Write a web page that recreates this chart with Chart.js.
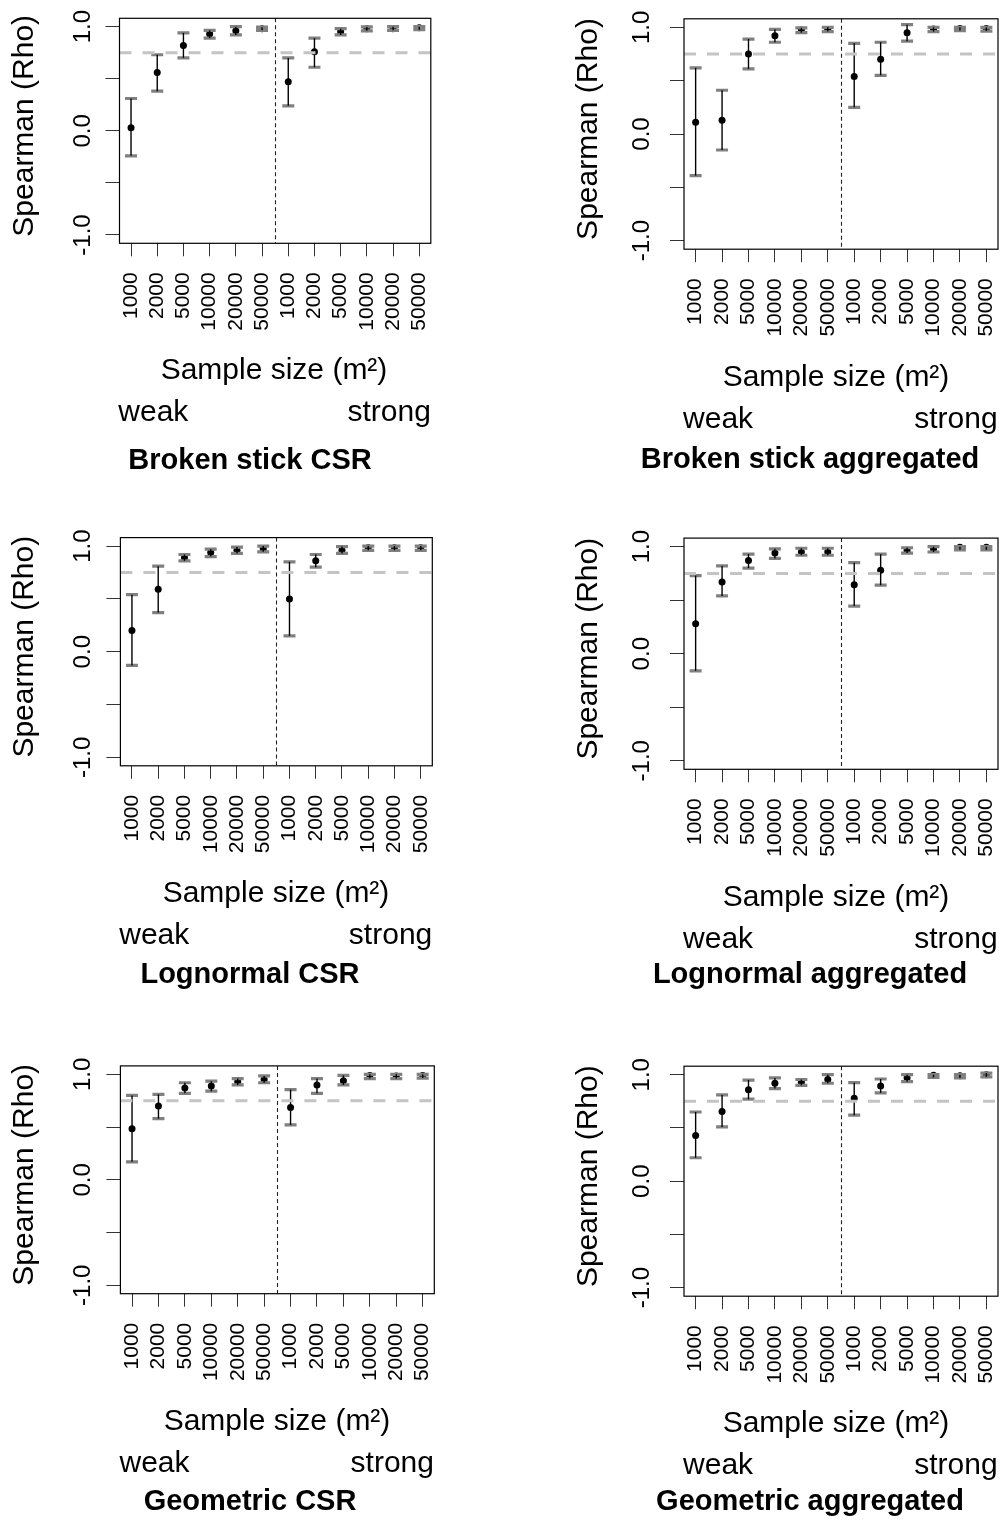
<!DOCTYPE html>
<html><head><meta charset="utf-8">
<script src="https://cdn.jsdelivr.net/npm/chart.js@4.4.1/dist/chart.umd.min.js"></script>
<style>
html,body{margin:0;padding:0;background:#fff;width:1002px;height:1526px;overflow:hidden}
.p{position:absolute}
</style></head><body>
<script>
// ---------- data ----------
const positions = [1,2,3,4,5,6,7,8,9,10,11,12];
const sampleSizes = ['1000','2000','5000','10000','20000','50000','1000','2000','5000','10000','20000','50000'];
const yTicks = [-1,-0.5,0,0.5,1];
const yTickLabels = [[-1,'-1.0'],[0,'0.0'],[1,'1.0']];
const referenceRho = 0.75;
const groupDivider = 6.5;
const groupLabels = ['weak','strong'];
const groupLabelAt = [1.85, 10.85];
const xTitle = 'Sample size (m²)';
const yTitle = 'Spearman (Rho)';
const panelTitles = ['Broken stick CSR','Broken stick aggregated','Lognormal CSR','Lognormal aggregated','Geometric CSR','Geometric aggregated'];

const bsCsrMean  = [0.03, 0.56, 0.82, 0.93, 0.96, 0.98, 0.47, 0.76, 0.95, 0.98, 0.98, 0.99];
const bsCsrLower = [-0.24,0.38, 0.70, 0.89, 0.92, 0.965,0.24, 0.61, 0.92, 0.96, 0.965,0.97];
const bsCsrUpper = [0.31, 0.73, 0.94, 0.965,1.00, 0.995,0.70, 0.89, 0.98, 0.997,1.00, 1.00];

const bsAggMean  = [0.11, 0.13, 0.75, 0.92, 0.975,0.98, 0.54, 0.70, 0.95, 0.985,0.99, 0.99];
const bsAggLower = [-0.39,-0.15,0.61, 0.86, 0.95, 0.96, 0.25, 0.55, 0.87, 0.96, 0.97, 0.965];
const bsAggUpper = [0.62, 0.41, 0.89, 0.98, 0.995,1.00, 0.85, 0.86, 1.025,1.00, 1.00, 1.00];

const lnCsrMean  = [0.20, 0.59, 0.89, 0.94, 0.96, 0.975,0.50, 0.86, 0.96, 0.985,0.985,0.985];
const lnCsrLower = [-0.13,0.37, 0.86, 0.90, 0.93, 0.945,0.15, 0.80, 0.93, 0.96, 0.96, 0.96];
const lnCsrUpper = [0.54, 0.81, 0.92, 0.97, 0.99, 1.00, 0.85, 0.92, 0.995,1.00, 1.00, 1.00];

const lnAggMean  = [0.28, 0.67, 0.87, 0.94, 0.95, 0.95, 0.645,0.78, 0.965,0.98, 0.995,0.995];
const lnAggLower = [-0.16,0.54, 0.80, 0.89, 0.92, 0.92, 0.445,0.64, 0.94, 0.95, 0.97, 0.97];
const lnAggUpper = [0.73, 0.82, 0.93, 0.98, 0.985,0.985,0.85, 0.93, 0.99, 1.00, 1.00, 1.00];

const geCsrMean  = [0.485,0.70, 0.87, 0.89, 0.93, 0.95, 0.685,0.90, 0.94, 0.99, 0.985,0.99];
const geCsrLower = [0.17, 0.58, 0.82, 0.84, 0.90, 0.92, 0.52, 0.82, 0.90, 0.96, 0.96, 0.965];
const geCsrUpper = [0.80, 0.81, 0.92, 0.935,0.96, 0.985,0.855,0.96, 0.99, 1.00, 1.00, 1.00];

const geAggMean  = [0.43, 0.655,0.86, 0.92, 0.93, 0.955,0.78, 0.895,0.97, 0.995,0.99, 1.00];
const geAggLower = [0.22, 0.51, 0.77, 0.87, 0.90, 0.92, 0.62, 0.83, 0.935,0.975,0.97, 0.98];
const geAggUpper = [0.65, 0.81, 0.95, 0.97, 0.955,1.00, 0.925,0.96, 1.00, 1.00, 1.00, 1.015];

// ---------- layout (page pixels) ----------
const panelLayout = [
 {ox:0,   oy:0,    w:501, h:509, box:[119.5,18.3,430.8,243.3],   title:[250,469],  sample:[274,379],  tickGap:30},
 {ox:501, oy:0,    w:501, h:509, box:[684,18.8,1000.4,249.2],    title:[810,468],  sample:[836,386],  tickGap:35},
 {ox:0,   oy:509,  w:501, h:509, box:[120.4,537.6,432.3,765.8],  title:[250,983],  sample:[276,902],  tickGap:30},
 {ox:501, oy:509,  w:501, h:509, box:[684,538.1,1000.4,769.3],   title:[810,983],  sample:[836,906],  tickGap:35},
 {ox:0,   oy:1018, w:501, h:508, box:[120.4,1065.9,434.3,1293.7],title:[250,1510], sample:[277,1430], tickGap:30},
 {ox:501, oy:1018, w:501, h:508, box:[684,1066.2,1000.4,1296.2], title:[810,1510], sample:[836,1432], tickGap:35}
];
const panelSeries = [
 [bsCsrMean, bsCsrLower, bsCsrUpper],
 [bsAggMean, bsAggLower, bsAggUpper],
 [lnCsrMean, lnCsrLower, lnCsrUpper],
 [lnAggMean, lnAggLower, lnAggUpper],
 [geCsrMean, geCsrLower, geCsrUpper],
 [geAggMean, geAggLower, geAggUpper]
];

const FONT = '"Liberation Sans", Arial, Helvetica, sans-serif';
const X_AXIS_H = 100;

function makePlugin(idx) {
  const L = panelLayout[idx];
  const [mean, lower, upper] = panelSeries[idx];
  return {
    id: 'panel' + idx,
    afterDatasetsDraw(chart) {
      const {ctx, chartArea: a, scales: {x, y}} = chart;
      ctx.save();
      positions.forEach((p, i) => {
        const px = x.getPixelForValue(p);
        const yl = y.getPixelForValue(lower[i]);
        const yu = y.getPixelForValue(upper[i]);
        ctx.strokeStyle = '#808080';
        ctx.lineWidth = 3.2;
        ctx.lineCap = 'butt';
        ctx.beginPath();
        ctx.moveTo(px - 6, yl); ctx.lineTo(px + 6, yl);
        ctx.moveTo(px - 6, yu); ctx.lineTo(px + 6, yu);
        ctx.stroke();
        ctx.strokeStyle = '#000';
        ctx.lineWidth = 1.4;
        ctx.beginPath();
        ctx.moveTo(px, yl); ctx.lineTo(px, yu);
        ctx.stroke();
      });
      // reference line
      const yr = y.getPixelForValue(referenceRho);
      ctx.strokeStyle = '#c4c4c4';
      ctx.lineWidth = 3;
      ctx.setLineDash([12, 11]);
      ctx.beginPath();
      ctx.moveTo(a.left, yr); ctx.lineTo(a.right, yr);
      ctx.stroke();
      // group divider
      const xd = Math.round(x.getPixelForValue(groupDivider)) + 0.5;
      ctx.strokeStyle = '#222';
      ctx.lineWidth = 1.1;
      ctx.setLineDash([4, 3]);
      ctx.beginPath();
      ctx.moveTo(xd, a.top); ctx.lineTo(xd, a.bottom);
      ctx.stroke();
      ctx.restore();
    },
    afterDraw(chart) {
      const {ctx, chartArea: a, scales: {x, y}} = chart;
      ctx.save();
      ctx.strokeStyle = '#000';
      ctx.lineWidth = 1.2;
      ctx.strokeRect(a.left, a.top, a.right - a.left, a.bottom - a.top);
      ctx.fillStyle = '#000';
      // y tick labels (rotated)
      ctx.font = '24px ' + FONT;
      ctx.textAlign = 'center';
      ctx.textBaseline = 'alphabetic';
      yTickLabels.forEach(([v, t]) => {
        ctx.save();
        ctx.translate(a.left - L.tickGap, y.getPixelForValue(v));
        ctx.rotate(-Math.PI / 2);
        ctx.fillText(t, 0, 0);
        ctx.restore();
      });
      // y title
      ctx.font = '30px ' + FONT;
      ctx.save();
      ctx.translate(a.left - 87, (a.top + a.bottom) / 2 - 5);
      ctx.rotate(-Math.PI / 2);
      ctx.fillText(yTitle, 0, 0);
      ctx.restore();
      // x title
      ctx.fillText(xTitle, L.sample[0] - L.ox, L.sample[1] - L.oy);
      // group labels
      const gy = L.sample[1] - L.oy + 42;
      groupLabels.forEach((g, k) => {
        ctx.fillText(g, x.getPixelForValue(groupLabelAt[k]), gy);
      });
      // panel title
      ctx.font = 'bold 29px ' + FONT;
      ctx.fillText(panelTitles[idx], L.title[0] - L.ox, L.title[1] - L.oy);
      ctx.restore();
    }
  };
}

panelLayout.forEach((L, idx) => {
  const wrap = document.createElement('div');
  wrap.className = 'p';
  wrap.style.left = L.ox + 'px';
  wrap.style.top = L.oy + 'px';
  wrap.style.width = L.w + 'px';
  wrap.style.height = L.h + 'px';
  const canvas = document.createElement('canvas');
  wrap.appendChild(canvas);
  document.body.appendChild(wrap);
  const [mean] = panelSeries[idx];
  const [bl, bt, br, bb] = L.box;
  new Chart(canvas, {
    type: 'scatter',
    data: {
      datasets: [{
        data: positions.map((p, i) => ({x: p, y: mean[i]})),
        pointRadius: 3.5,
        pointBackgroundColor: '#000',
        pointBorderColor: '#000',
        pointBorderWidth: 0,
        showLine: false
      }]
    },
    options: {
      responsive: true,
      maintainAspectRatio: false,
      animation: false,
      events: [],
      layout: {padding: {left: bl - L.ox, top: bt - L.oy, right: L.ox + L.w - br, bottom: L.oy + L.h - bb - X_AXIS_H}},
      plugins: {legend: {display: false}, tooltip: {enabled: false}},
      scales: {
        x: {
          type: 'linear', min: 0.56, max: 12.44, position: 'bottom',
          afterBuildTicks: s => { s.ticks = positions.map(v => ({value: v})); },
          afterFit: s => { s.height = X_AXIS_H; s.paddingLeft = 0; s.paddingRight = 0; },
          grid: {display: true, drawOnChartArea: false, drawTicks: true, tickLength: 13, color: '#333', lineWidth: 1},
          border: {display: false},
          ticks: {
            autoSkip: false, minRotation: 90, maxRotation: 90, padding: 16,
            color: '#000', font: {family: FONT, size: 21},
            callback: v => sampleSizes[positions.indexOf(v)]
          }
        },
        y: {
          type: 'linear', min: -1.08, max: 1.08, position: 'left',
          afterBuildTicks: s => { s.ticks = yTicks.map(v => ({value: v})); },
          afterFit: s => { s.width = 0; s.paddingTop = 0; s.paddingBottom = 0; },
          grid: {display: true, drawOnChartArea: false, drawTicks: true, tickLength: 14, color: '#333', lineWidth: 1},
          border: {display: false},
          ticks: {display: false}
        }
      }
    },
    plugins: [makePlugin(idx)]
  });
});
</script>
</body></html>
